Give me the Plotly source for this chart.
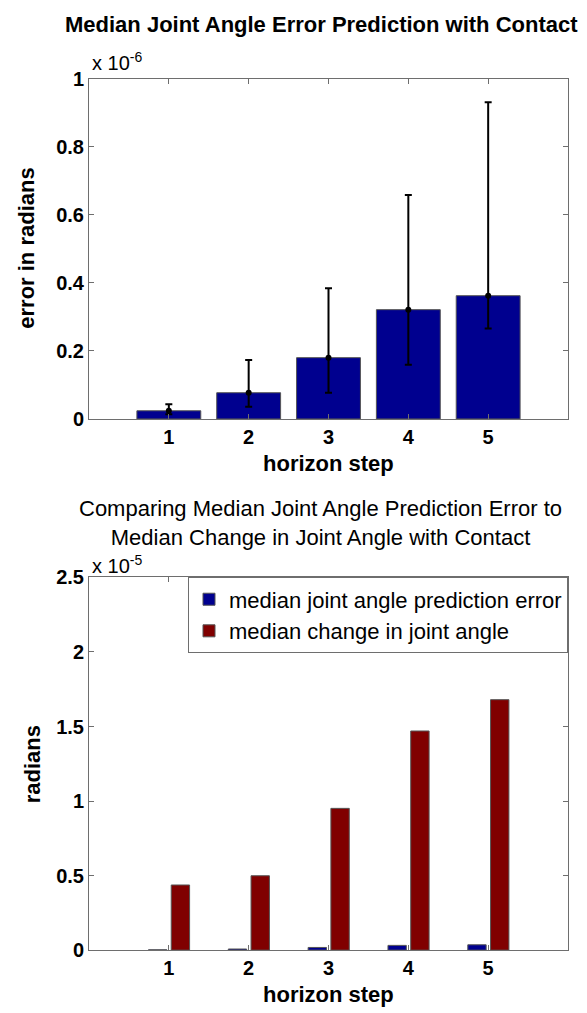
import plotly.graph_objects as go

# ---------------- data ----------------
steps = [1, 2, 3, 4, 5]
step_labels = ["1", "2", "3", "4", "5"]

# top chart: median joint angle error (units of 1e-6 rad)
err_median = [0.024, 0.077, 0.180, 0.321, 0.362]
err_lower = [0.014, 0.036, 0.077, 0.159, 0.266]
err_upper = [0.043, 0.173, 0.384, 0.658, 0.930]

# bottom chart (units of 1e-5 rad)
pred_error = [0.0024, 0.0077, 0.018, 0.032, 0.036]
change_angle = [0.437, 0.499, 0.951, 1.470, 1.680]

top_yticks = [0, 0.2, 0.4, 0.6, 0.8, 1]
bot_yticks = [0, 0.5, 1, 1.5, 2, 2.5]

# ---------------- style / layout ----------------
W, H = 587, 1013
L, R = 89, 568
FONT = "Liberation Sans, Arial, sans-serif"
BLUE = "#00008F"
RED = "#800000"
AXC = "#6e6e6e"


def px(x):
    return (x - L) / (R - L)


def py(y):
    return 1 - y / H


fig = go.Figure()

fig.add_trace(go.Bar(
    x=steps, y=err_median, width=0.8, marker=dict(color=BLUE, line=dict(color="#555555", width=1)),
    showlegend=False, xaxis="x", yaxis="y"))

fig.add_trace(go.Scatter(
    x=steps, y=err_median, mode="markers",
    marker=dict(color="black", size=6, symbol="circle"),
    error_y=dict(type="data", symmetric=False,
                 array=[u - m for u, m in zip(err_upper, err_median)],
                 arrayminus=[m - lo for m, lo in zip(err_median, err_lower)],
                 color="black", thickness=2, width=3.5),
    showlegend=False, xaxis="x", yaxis="y"))

fig.add_trace(go.Bar(
    x=steps, y=pred_error, width=0.23, offset=-0.255,
    marker=dict(color=BLUE, line=dict(color="#555555", width=1)),
    name="median joint angle prediction error", xaxis="x2", yaxis="y2"))
fig.add_trace(go.Bar(
    x=steps, y=change_angle, width=0.23, offset=0.03,
    marker=dict(color=RED, line=dict(color="#555555", width=1)),
    name="median change in joint angle", xaxis="x2", yaxis="y2"))

axis_common = dict(showline=True, linecolor=AXC, linewidth=1, mirror="ticks",
                   ticks="inside", ticklen=5, tickcolor=AXC, showgrid=False, zeroline=False,
                   tickfont=dict(family=FONT, size=20, color="black", weight="bold"))

fig.update_layout(
    width=W, height=H, margin=dict(l=L, r=W - R, t=0, b=0),
    paper_bgcolor="white", plot_bgcolor="white", barmode="overlay",
    font=dict(family=FONT, color="black"),
    xaxis=dict(domain=[0, 1], anchor="y", range=[0, 6], tickvals=steps, ticktext=step_labels, **axis_common),
    yaxis=dict(domain=[py(417), py(69)], anchor="x", range=[0, 1], tickvals=top_yticks, **axis_common),
    xaxis2=dict(domain=[0, 1], anchor="y2", range=[0, 6], tickvals=steps, ticktext=step_labels, **axis_common),
    yaxis2=dict(domain=[py(960), py(579)], anchor="x2", range=[0, 2.5], tickvals=bot_yticks, **axis_common),
    legend=dict(x=1, xanchor="right", y=py(579), yanchor="top", bordercolor=AXC, borderwidth=1,
                bgcolor="white", font=dict(family=FONT, size=22, color="black"), itemwidth=30),
)

ann = [
    dict(text="<b>Median Joint Angle Error Prediction with Contact</b>", x=px(321), y=py(14),
         size=22, xanchor="center", yanchor="middle"),
    dict(text="x 10<sup>-6</sup>", x=px(90), y=py(66), size=20, xanchor="left", yanchor="bottom"),
    dict(text="<b>horizon step</b>", x=px(328), y=py(463), size=22, xanchor="center", yanchor="middle"),
    dict(text="<b>error in radians</b>", x=px(27), y=py(243), size=22, xanchor="center", yanchor="middle",
         textangle=-90),
    dict(text="Comparing Median Joint Angle Prediction Error to<br>Median Change in Joint Angle with Contact",
         x=px(320), y=py(523), size=22, xanchor="center", yanchor="middle"),
    dict(text="x 10<sup>-5</sup>", x=px(90), y=py(581), size=20, xanchor="left", yanchor="bottom"),
    dict(text="<b>horizon step</b>", x=px(328), y=py(1005), size=22, xanchor="center", yanchor="middle"),
    dict(text="<b>radians</b>", x=px(32), y=py(770), size=22, xanchor="center", yanchor="middle",
         textangle=-90),
]
for a in ann:
    size = a.pop("size")
    fig.add_annotation(xref="paper", yref="paper", showarrow=False,
                       font=dict(family=FONT, size=size, color="black"), **a)

fig.write_html("out.html")
